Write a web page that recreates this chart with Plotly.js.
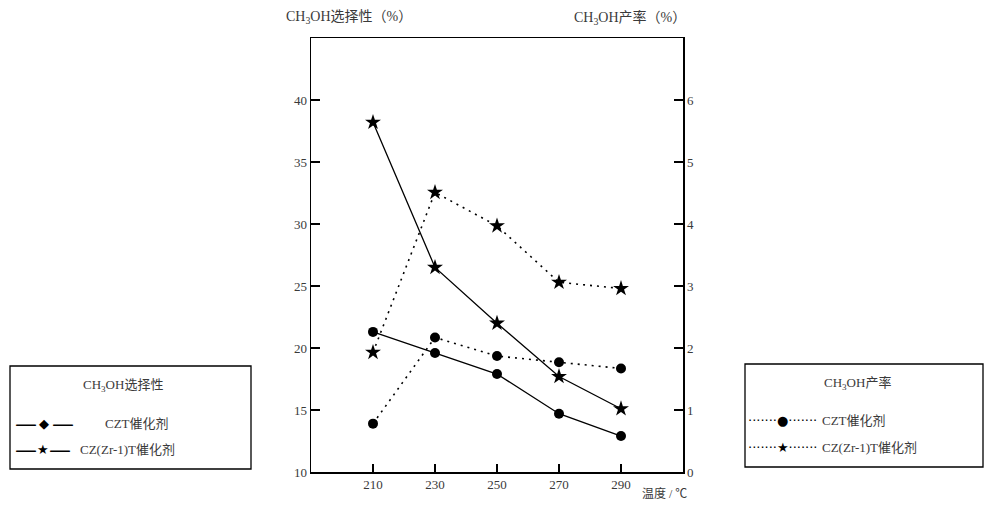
<!DOCTYPE html>
<html>
<head>
<meta charset="utf-8">
<script src="https://cdn.plot.ly/plotly-3.0.1.min.js"></script>
<style>html,body{margin:0;padding:0;background:#fff;}#chart{width:984px;height:506px;}</style>
</head>
<body>
<div id="chart"></div>
<script>
// ---- data ----
const temps = [210, 230, 250, 270, 290];
const cztSelectivity = [21.3, 19.6, 17.9, 14.7, 12.9];
const czzrSelectivity = [38.2, 26.5, 22.0, 17.7, 15.1];
const cztYield = [0.78, 2.17, 1.87, 1.77, 1.67];
const czzrYield = [1.93, 4.51, 3.97, 3.06, 2.96];
const xTicks = [210, 230, 250, 270, 290];
const leftTicks = [10, 15, 20, 25, 30, 35, 40];
const rightTicks = [0, 1, 2, 3, 4, 5, 6];
const leftTitle = 'CH<sub>3</sub>OH选择性（%）';
const rightTitle = 'CH<sub>3</sub>OH产率（%）';
const xTitle = '温度 / ℃';
const legendSelTitle = 'CH<sub>3</sub>OH选择性';
const legendYieldTitle = 'CH<sub>3</sub>OH产率';
const catNames = ['CZT催化剂', 'CZ(Zr-1)T催化剂'];

// ---- layout geometry ----
const W = 984, H = 506;
const L = 311, R = 683, T = 38, B = 472;
const px = x => (x - L) / (R - L);
const py = y => (B - y) / (B - T);

const FONT = '"Liberation Serif", "Noto Sans CJK SC", serif';
const SYMFONT = '"DejaVu Sans", sans-serif';
const TXT = '#3a3a3a';

const traces = [
  {x: temps, y: cztSelectivity, yaxis: 'y', mode: 'lines+markers',
   line: {color: '#000', width: 1.3}, marker: {symbol: 'circle', size: 10, color: '#000'}},
  {x: temps, y: czzrSelectivity, yaxis: 'y', mode: 'lines+markers',
   line: {color: '#000', width: 1.3}, marker: {symbol: 'star', size: 12, color: '#000'}},
  {x: temps, y: cztYield, yaxis: 'y2', mode: 'lines+markers',
   line: {color: '#000', width: 1.6, dash: '2px,5px'}, marker: {symbol: 'circle', size: 10, color: '#000'}},
  {x: temps, y: czzrYield, yaxis: 'y2', mode: 'lines+markers',
   line: {color: '#000', width: 1.6, dash: '2px,5px'}, marker: {symbol: 'star', size: 12, color: '#000'}}
];

function ann(text, x, y, xanchor, size, family, color) {
  return {text: text, xref: 'paper', yref: 'paper', x: px(x), y: py(y),
    xanchor: xanchor || 'center', yanchor: 'middle', showarrow: false,
    font: {family: family || FONT, size: size || 13, color: color || TXT}};
}

const annotations = [
  ann(leftTitle, 349, 18, 'center', 14),
  ann(rightTitle, 630, 18, 'center', 14),
  ann(xTitle, 640, 494, 'left', 12),
  ann(legendSelTitle, 123, 385, 'center', 13),
  ann('—', 26, 423, 'center', 22, SYMFONT, '#000'),
  ann('◆', 44, 423, 'center', 13, SYMFONT, '#000'),
  ann('—', 63, 423, 'center', 22, SYMFONT, '#000'),
  ann(catNames[0], 103, 423, 'left', 13),
  ann('—', 26, 449, 'center', 22, SYMFONT, '#000'),
  ann('★', 43, 449, 'center', 13, SYMFONT, '#000'),
  ann('—', 60, 449, 'center', 22, SYMFONT, '#000'),
  ann(catNames[1], 78, 449, 'left', 13),
  ann(legendYieldTitle, 857, 383, 'center', 13),
  ann('·······●·······', 746, 420, 'left', 13, SYMFONT, '#000'),
  ann(catNames[0], 820, 420, 'left', 13),
  ann('·······★·······', 746, 447, 'left', 13, SYMFONT, '#000'),
  ann(catNames[1], 820, 447, 'left', 13)
];

const shapes = [
  {type: 'rect', xref: 'paper', yref: 'paper', x0: px(10), x1: px(251), y0: py(366), y1: py(469),
   line: {color: '#000', width: 1.3}},
  {type: 'rect', xref: 'paper', yref: 'paper', x0: px(745), x1: px(983), y0: py(364), y1: py(467),
   line: {color: '#000', width: 1.3}}
];

const layout = {
  width: W, height: H,
  margin: {l: L, r: W - R, t: T, b: H - B, pad: 0},
  paper_bgcolor: '#fff', plot_bgcolor: '#fff',
  showlegend: false,
  font: {family: FONT, size: 13, color: TXT},
  xaxis: {range: [190, 310], tickvals: xTicks, ticktext: xTicks.map(String),
    ticks: 'inside', ticklen: 8, tickwidth: 1.5, tickcolor: '#000',
    showline: true, linecolor: '#000', linewidth: 1.5, mirror: true,
    showgrid: false, zeroline: false, fixedrange: true,
    tickfont: {family: FONT, size: 13, color: TXT}},
  yaxis: {range: [10, 45], tickvals: leftTicks, ticktext: leftTicks.map(String),
    ticks: 'inside', ticklen: 9, tickwidth: 1.5, tickcolor: '#000',
    showline: true, linecolor: '#000', linewidth: 1.5,
    showgrid: false, zeroline: false, fixedrange: true,
    tickfont: {family: FONT, size: 13, color: TXT}},
  yaxis2: {range: [0, 7], overlaying: 'y', side: 'right',
    tickvals: rightTicks, ticktext: rightTicks.map(String),
    ticks: 'inside', ticklen: 9, tickwidth: 1.5, tickcolor: '#000',
    showline: true, linecolor: '#000', linewidth: 1.5,
    showgrid: false, zeroline: false, fixedrange: true,
    tickfont: {family: FONT, size: 13, color: TXT}},
  annotations: annotations,
  shapes: shapes
};

Plotly.newPlot('chart', traces, layout, {displayModeBar: false, staticPlot: true});
</script>
</body>
</html>
